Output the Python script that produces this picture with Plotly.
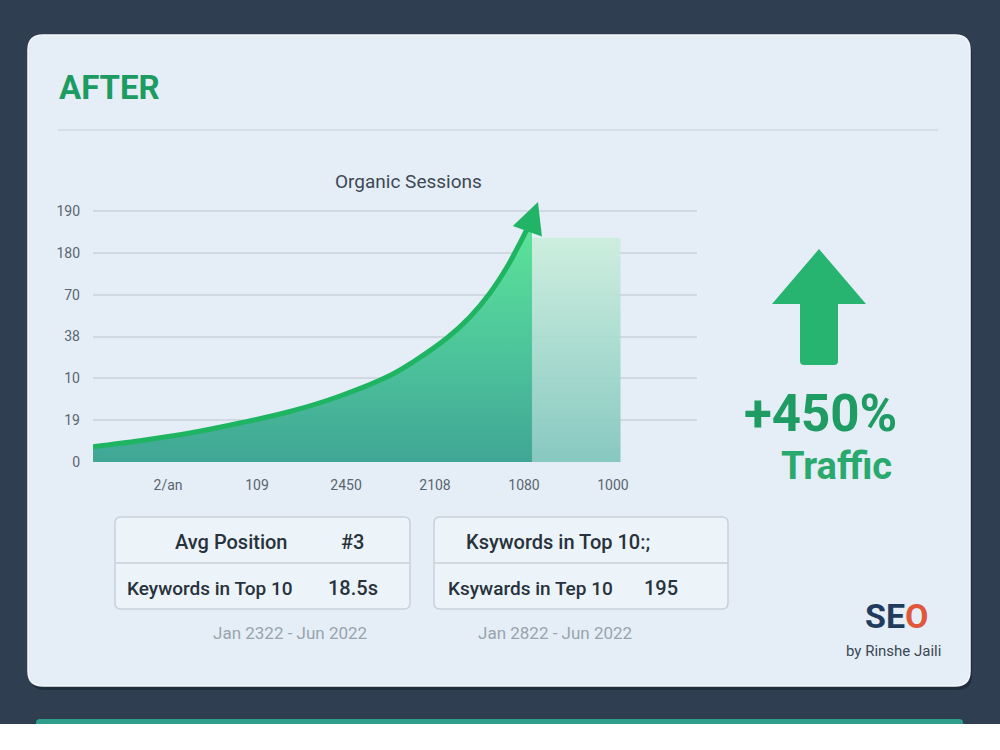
import plotly.graph_objects as go

# ---------------- data ----------------
chart_title = "Organic Sessions"
x_tick_vals = [0, 1, 2, 3, 4, 5]
x_tick_text = ["2/an", "109", "2450", "2108", "1080", "1000"]
y_tick_vals = [0, 1, 2, 3, 4, 5, 6]
y_tick_text = ["0", "19", "10", "38", "70", "180", "190"]

curve_x = [-0.846, -0.315, 0.247, 0.809, 1.371, 1.933, 2.494, 2.753, 3.135, 3.393, 3.618, 3.809, 3.955, 4.045, 4.09]
curve_y = [0.366, 0.509, 0.693, 0.932, 1.207, 1.578, 2.068, 2.391, 2.964, 3.466, 4.040, 4.662, 5.236, 5.618, 5.82]

bar_center = 4.585
bar_width = 1.0
bar_value = 5.36

arrow_tip_x = 4.157
arrow_tip_y = 6.216

row_labels_left = ["Avg Position", "Keywords in Top 10"]
row_values_left = ["#3", "18.5s"]
row_labels_right = ["Ksywords in Top 10:;", "Ksywards in Tep 10"]
row_values_right = ["", "195"]
period_left = "Jan 2322 - Jun 2022"
period_right = "Jan 2822 - Jun 2022"
growth_text = "+450%"
growth_label = "Traffic"

# ---------------- helpers (pixel -> paper) ----------------
W, H = 1000, 750
def px(x):
    return x / W
def py(y):
    return 1 - y / H

def rrect(x0, y0, x1, y1, r):
    pts = [
        f"M{px(x0 + r)},{py(y0)}",
        f"L{px(x1 - r)},{py(y0)}",
        f"Q{px(x1)},{py(y0)} {px(x1)},{py(y0 + r)}",
        f"L{px(x1)},{py(y1 - r)}",
        f"Q{px(x1)},{py(y1)} {px(x1 - r)},{py(y1)}",
        f"L{px(x0 + r)},{py(y1)}",
        f"Q{px(x0)},{py(y1)} {px(x0)},{py(y1 - r)}",
        f"L{px(x0)},{py(y0 + r)}",
        f"Q{px(x0)},{py(y0)} {px(x0 + r)},{py(y0)}",
        "Z",
    ]
    return " ".join(pts)

FONT = "Roboto"
fig = go.Figure()

# bar (translucent)
bx0 = bar_center - bar_width / 2
bx1 = bar_center + bar_width / 2
fig.add_trace(go.Scatter(
    x=[bx0, bx0, bx1, bx1, bx0], y=[0, bar_value, bar_value, 0, 0],
    mode="lines", line=dict(width=0), fill="toself",
    fillgradient=dict(type="vertical",
                      colorscale=[[0, "rgba(130,198,190,0.95)"], [0.6, "rgba(172,222,207,0.9)"], [1, "rgba(204,238,222,0.95)"]]),
    hoverinfo="skip", showlegend=False))

# area curve
fig.add_trace(go.Scatter(
    x=curve_x, y=curve_y, mode="lines",
    line=dict(color="#1fb462", width=5, shape="spline", smoothing=1.0),
    fill="tozeroy",
    fillgradient=dict(type="vertical",
                      colorscale=[[0, "#40a695"], [0.45, "#4dc49b"], [1, "#5de598"]]),
    hoverinfo="skip", showlegend=False))

# arrow head (tip placed at the arrow end)
fig.add_trace(go.Scatter(
    x=[arrow_tip_x], y=[arrow_tip_y], mode="markers",
    marker=dict(symbol="arrow-up", size=31, angle=20, color="#22b466", line=dict(width=0)),
    cliponaxis=False, hoverinfo="skip", showlegend=False))

shapes = []
# bottom white strip and teal strip of next card
shapes.append(dict(type="path", xref="paper", yref="paper", path=rrect(36, 719, 963, 735, 4),
                   fillcolor="#2f9f8c", line=dict(width=0), layer="below"))
shapes.append(dict(type="rect", xref="paper", yref="paper", x0=0, x1=1, y0=0, y1=py(724),
                   fillcolor="#ffffff", line=dict(width=0), layer="below"))
# card shadow + card
shapes.append(dict(type="path", xref="paper", yref="paper", path=rrect(30, 39, 972, 690, 15),
                   fillcolor="rgba(15,25,38,0.45)", line=dict(width=0), layer="below"))
shapes.append(dict(type="path", xref="paper", yref="paper", path=rrect(28, 35, 970, 686, 15),
                   fillcolor="#e5eef6", line=dict(color="#f3f7fb", width=1.5), layer="below"))
# header divider
shapes.append(dict(type="line", xref="paper", yref="paper", x0=px(58), x1=px(938), y0=py(130), y1=py(130),
                   line=dict(color="#cfd8e0", width=1.5), layer="below"))
# big up arrow
arrow_path = (f"M{px(819)},{py(249)} L{px(866)},{py(304)} L{px(838)},{py(304)} "
              f"L{px(838)},{py(361)} Q{px(838)},{py(365)} {px(834)},{py(365)} "
              f"L{px(804)},{py(365)} Q{px(800)},{py(365)} {px(800)},{py(361)} "
              f"L{px(800)},{py(304)} L{px(772)},{py(304)} Z")
shapes.append(dict(type="path", xref="paper", yref="paper", path=arrow_path,
                   fillcolor="#27b370", line=dict(width=0), layer="above"))
# metric tables
for (x0, x1) in [(115, 410), (434, 728)]:
    shapes.append(dict(type="path", xref="paper", yref="paper", path=rrect(x0, 517, x1, 609, 6),
                       fillcolor="rgba(240,246,251,0.7)", line=dict(color="#c7d1da", width=1.5), layer="below"))
    shapes.append(dict(type="line", xref="paper", yref="paper", x0=px(x0), x1=px(x1), y0=py(563), y1=py(563),
                       line=dict(color="#c7d1da", width=1.5), layer="below"))

ann = []
def text(x, y, s, size, color, xanchor="center", bold=False, weight=None, family=FONT):
    f = dict(family=family, size=size, color=color)
    if weight is not None:
        f["weight"] = weight
    ann.append(dict(x=px(x), y=py(y), xref="paper", yref="paper", text=(f"<b>{s}</b>" if bold else s),
                    showarrow=False, xanchor=xanchor, yanchor="middle", font=f))

text(57, 88, "AFTER", 33, "#1c9b62", xanchor="left", bold=True)
text(408, 181, chart_title, 19, "#3d4955")
text(820, 413, growth_text, 51, "#1f9c64", bold=True)
text(836, 466, growth_label, 38, "#29a96d", bold=True)

# left table
text(231, 542, row_labels_left[0], 20, "#28323c", weight=500)
text(352, 542, row_values_left[0], 20, "#28323c", weight=500)
text(125, 588, row_labels_left[1], 19, "#28323c", xanchor="left", weight=500)
text(353, 588, row_values_left[1], 20, "#28323c", weight=500)
# right table
text(464, 542, row_labels_right[0], 20, "#28323c", xanchor="left", weight=500)
text(446, 588, row_labels_right[1], 19, "#28323c", xanchor="left", weight=500)
text(661, 588, row_values_right[1], 20, "#28323c", weight=500)
# periods
text(290, 633, period_left, 17, "#98a4ae")
text(555, 633, period_right, 17, "#98a4ae")
# logo
ann.append(dict(x=px(897), y=py(616), xref="paper", yref="paper", showarrow=False,
                xanchor="center", yanchor="middle",
                text="<b><span style='color:#1f3c5e'>SE</span><span style='color:#e0583a'>O</span></b>",
                font=dict(family=FONT, size=34, color="#1f3c5e")))
text(893, 651, "by Rinshe Jaili", 15, "#3b4753")

fig.update_layout(
    width=W, height=H,
    margin=dict(l=0, r=0, t=0, b=0, autoexpand=False),
    paper_bgcolor="#2f3e51",
    plot_bgcolor="rgba(0,0,0,0)",
    shapes=shapes,
    annotations=ann,
    showlegend=False,
    xaxis=dict(domain=[px(93), px(697)], range=[-0.843, 5.944], tickvals=x_tick_vals, ticktext=x_tick_text,
               showgrid=False, zeroline=False, showline=False, ticks="", automargin=False,
               tickfont=dict(family=FONT, size=14, color="#5a6570"), ticklabelstandoff=13, fixedrange=True),
    yaxis=dict(domain=[py(462), py(186)], range=[0, 6.6], tickvals=y_tick_vals, ticktext=y_tick_text,
               showgrid=True, gridcolor="#d0d9e1", gridwidth=1.5, zeroline=False, showline=False, ticks="",
               automargin=False,
               tickfont=dict(family=FONT, size=14, color="#5a6570"), ticklabelstandoff=12, fixedrange=True),
)

fig.write_html("out.html")
